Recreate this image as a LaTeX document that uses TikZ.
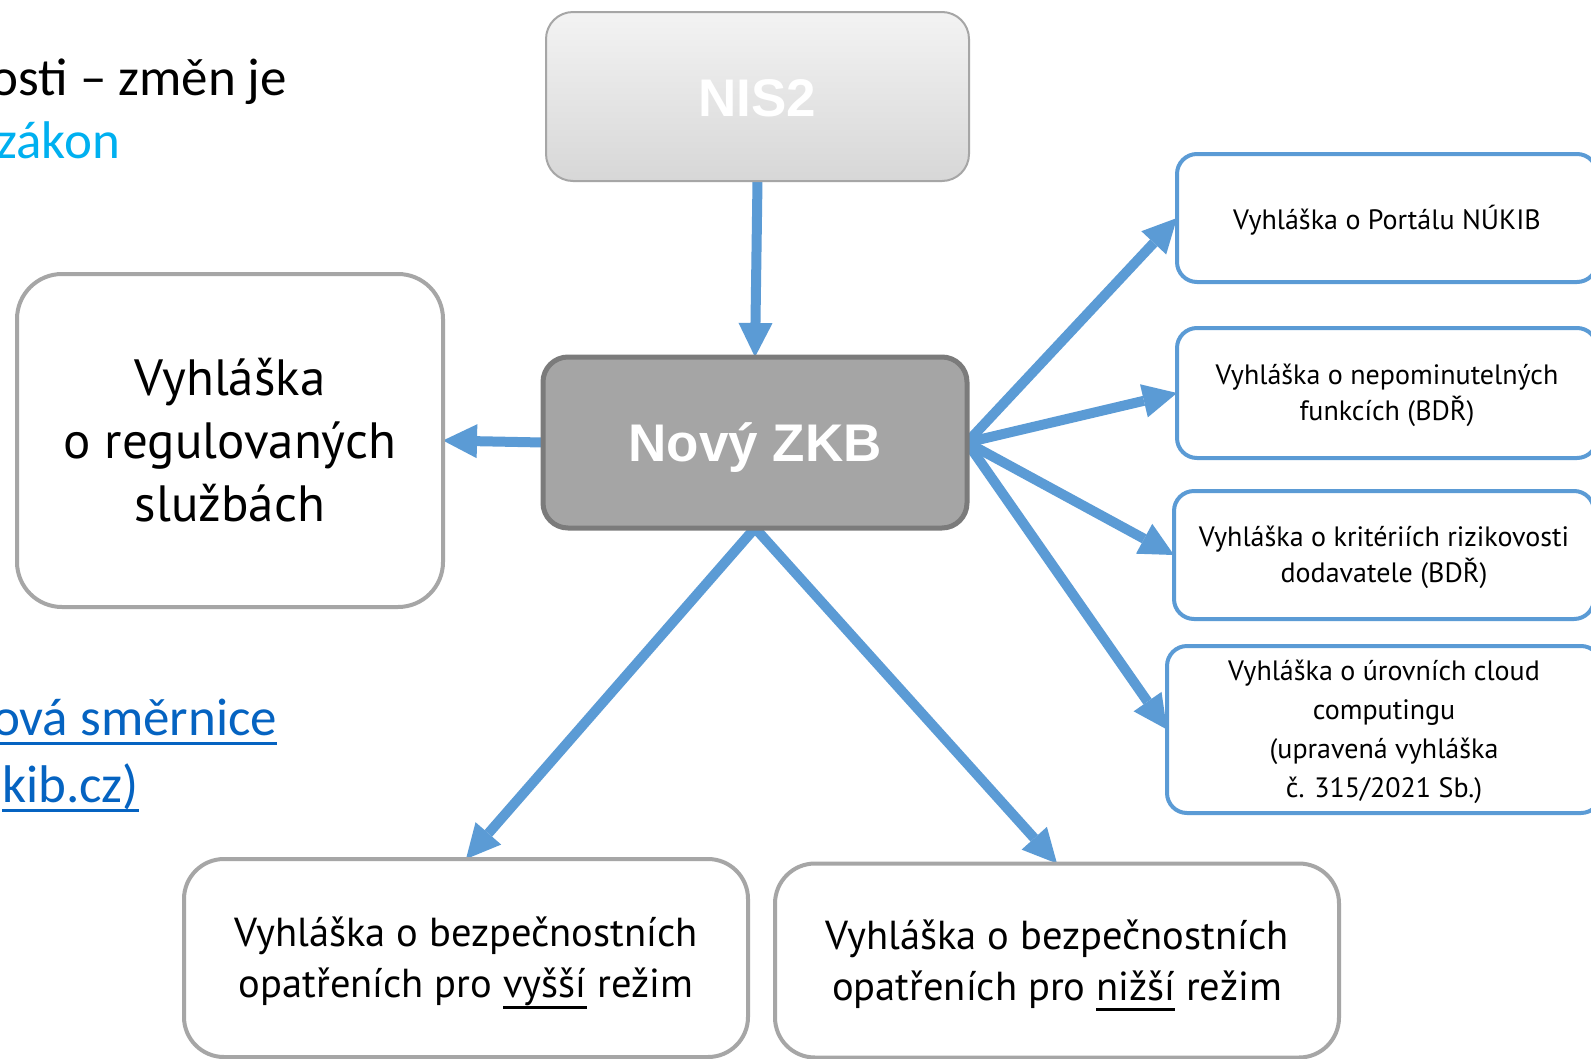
\documentclass[tikz,border=0pt]{standalone}
\usepackage{fontspec}
\setmainfont{PT Sans}
\newfontfamily\headfont{Liberation Sans}
\newfontfamily\calfont{Carlito}
\usetikzlibrary{arrows.meta}
\definecolor{arrowblue}{HTML}{5B9BD5}
\definecolor{boxgray}{HTML}{A6A6A6}
\definecolor{zkbfill}{HTML}{A5A5A5}
\definecolor{zkbdraw}{HTML}{7B7B7B}
\definecolor{cyantext}{HTML}{00B0F0}
\definecolor{linkblue}{HTML}{0563C1}
\definecolor{nistop}{HTML}{F3F3F3}
\definecolor{nisbot}{HTML}{D7D7D7}
\newcommand\myuline[2][-11pt]{\setbox0\hbox{#2}\rlap{\rule[#1]{\wd0}{3pt}}\box0\relax}
\pgfdeclarelayer{bg}
\pgfsetlayers{bg,main}
\begin{document}
\begin{tikzpicture}[x=1pt,y=-1pt,
  every node/.style={inner sep=0pt, outer sep=0pt},
  graybox/.style={draw=boxgray, line width=4pt, fill=white, rounded corners=#1},
  graybox/.default=40pt,
  bluebox/.style={draw=arrowblue, line width=4pt, fill=white, rounded corners=20pt, minimum width=420pt},
  boxtext/.style={align=center},
  bluetext/.style={align=center, font=\fontsize{28}{36}\selectfont},
  headtext/.style={text=white, font=\headfont\bfseries\fontsize{53}{60}\selectfont},
  conn/.style={draw=arrowblue, line width=10pt, -{Triangle[length=34pt,width=34pt,line width=0pt]}},
  plaintext/.style={anchor=base east, font=\calfont\fontsize{53}{63}\selectfont},
]
\useasboundingbox (0,0) rectangle (1591,1058);
\clip (0,0) rectangle (1591,1058);

% top-left and link texts
\node[plaintext] (t1) at (287,95) {osti – změn je};
\node[plaintext, text=cyantext] (t2) at (120,158) {zákon};
\node[plaintext, text=linkblue] (l1) at (277,735) {\myuline[-9.5pt]{ová směrnice}};
\node[plaintext, text=linkblue] (l2) at (139,802) {\myuline[-9.5pt]{kib.cz)}};

% main nodes
\node[draw=boxgray, line width=2pt, rounded corners=27pt, top color=nistop, bottom color=nisbot,
      minimum width=423pt, minimum height=169pt] (nis) at (757.5,96.5) {};
\node[headtext] (nist) at ([yshift=-2pt]nis.center) {NIS2};
\node[draw=zkbdraw, line width=5pt, rounded corners=25pt, fill=zkbfill,
      minimum width=424pt, minimum height=171pt] (zkb) at (755,442.5) {};
\node[headtext] (zkbt) at ([yshift=-5pt]zkb.center) {Nový ZKB};

\node[graybox=45pt, minimum width=426pt, minimum height=333pt] (reg) at (230,440.5) {};
\node[boxtext, font=\fontsize{51}{63}\selectfont] (regt) at (reg.center) {Vyhláška\\o regulovaných\\službách};

\node[bluebox, minimum height=128pt] (r1) at (1387,218) {};
\node[bluetext] (r1t) at ([yshift=-2.5pt]r1.center) {Vyhláška o Portálu NÚKIB};
\node[bluebox, minimum height=130pt] (r2) at (1387,393) {};
\node[bluetext] (r2t) at ([yshift=-2.5pt]r2.center) {Vyhláška o nepominutelných\\funkcích (BDŘ)};
\node[bluebox, minimum height=128pt] (r3) at (1384,555) {};
\node[bluetext] (r3t) at ([yshift=-2.5pt]r3.center) {Vyhláška o kritériích rizikovosti\\dodavatele (BDŘ)};
\node[bluebox, minimum height=167pt, minimum width=434pt] (r4) at (1384,729.5) {};
\node[bluetext, font=\fontsize{28}{39}\selectfont] (r4t) at ([yshift=-2.5pt]r4.center)
     {Vyhláška o úrovních cloud\\computingu\\(upravená vyhláška\\č. 315/2021 Sb.)};

\node[graybox, minimum width=564pt, minimum height=198pt] (bl) at (466,958) {};
\node[boxtext, font=\fontsize{40.5}{51}\selectfont] (blt) at ([yshift=-5pt]bl.center)
     {Vyhláška o bezpečnostních\\opatřeních pro \myuline{vyšší} režim};
\node[graybox, minimum width=564pt, minimum height=194pt] (br) at (1057,960.5) {};
\node[boxtext, font=\fontsize{40.5}{51}\selectfont] (brt) at ([yshift=-5pt]br.center)
     {Vyhláška o bezpečnostních\\opatřeních pro \myuline{nižší} režim};

\begin{pgfonlayer}{bg}
\fill[white] (0,0) rectangle (1591,1058);
\draw[conn] (nis.south) -- (zkb.north);
\draw[conn] (zkb.west) -- (reg.east);
\draw[conn] (zkb.east) -- (r1.west);
\draw[conn] (zkb.east) -- (r2.west);
\draw[conn] (zkb.east) -- (r3.west);
\draw[conn] (zkb.east) -- (r4.west);
\draw[conn] (zkb.south) -- (bl.north);
\draw[conn] (zkb.south) -- (br.north);
\end{pgfonlayer}
\end{tikzpicture}
\end{document}
